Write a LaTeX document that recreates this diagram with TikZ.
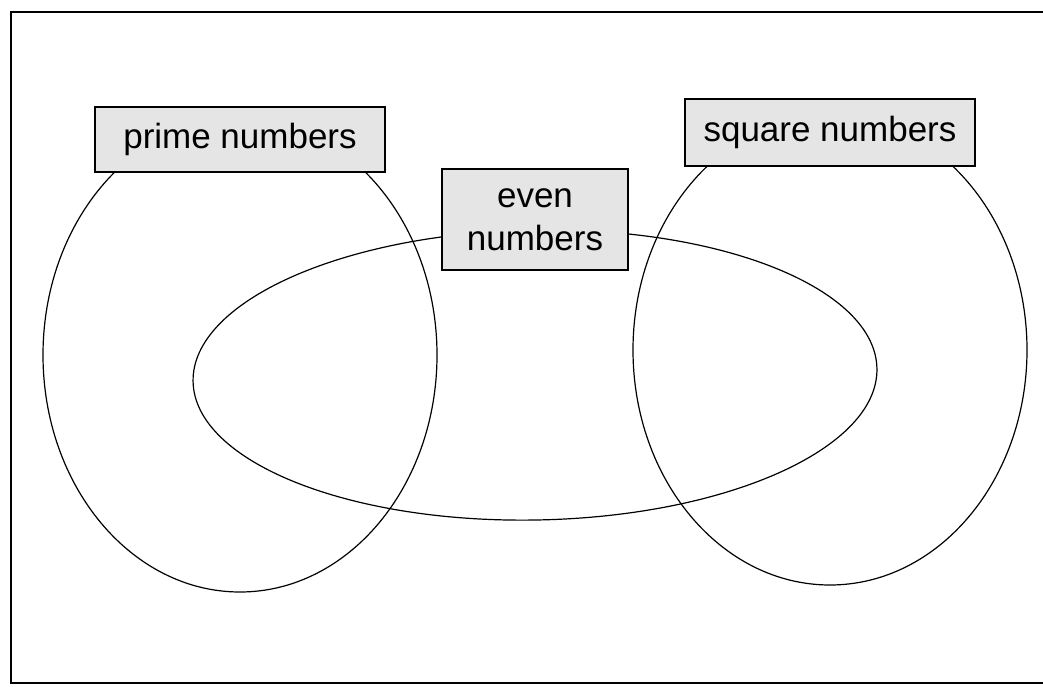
\documentclass[tikz,border=0pt]{standalone}
\usepackage{fontspec}
\setmainfont{Liberation Sans}
\begin{document}
\begin{tikzpicture}[x=1pt,y=-1pt,
  setline/.style={black, line width=1.2pt},
  labelbox/.style={draw=black, line width=2pt, fill=black!10, inner sep=0pt,
    font=\fontsize{35}{43}\selectfont, align=center},
  framelinestyle/.style={black, line width=1.5pt}]
\useasboundingbox (0,0) rectangle (1043,687);
% frame
\coordinate (ftr) at (1043,12);
\coordinate (ftl) at (11,12);
\coordinate (fbl) at (11,683);
\coordinate (fbr) at (1043,683);
\draw[framelinestyle] (ftr) -- (ftl) -- (fbl) -- (fbr);
% sets
\draw[setline] (240,355) ellipse [x radius=197pt, y radius=237pt];
\draw[setline] (830,350) ellipse [x radius=197pt, y radius=235pt];
\draw[setline, rotate around={1.1:(535,375)}] (535,375) ellipse [x radius=342pt, y radius=145pt];
% labels
\node[labelbox, minimum width=290pt, minimum height=65pt] (prime) at (240,139.5) {prime numbers};
\node[labelbox, minimum width=290pt, minimum height=67pt] (square) at (830,132.5) {square numbers};
\node[labelbox, minimum width=186pt, minimum height=101pt] (even) at (535,219.5) {even\\numbers};
\end{tikzpicture}
\end{document}
